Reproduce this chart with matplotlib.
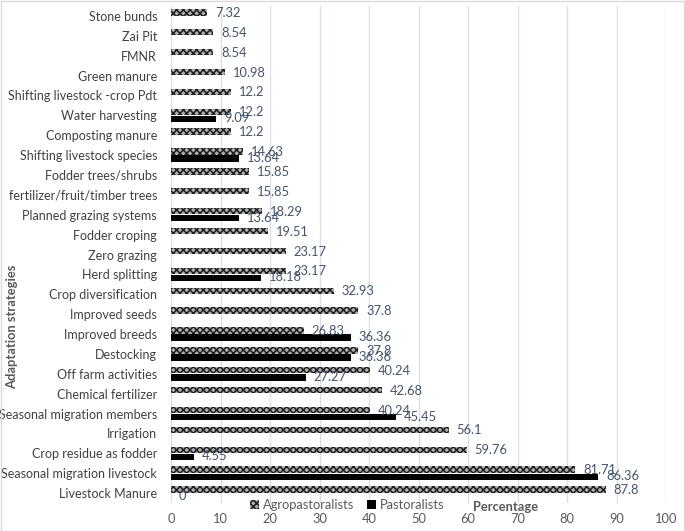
import matplotlib
matplotlib.use("Agg")
import matplotlib.pyplot as plt
import numpy as np
from matplotlib.patches import Patch, Rectangle

plt.rcParams['font.family'] = ['Lato', 'DejaVu Sans']
plt.rcParams['hatch.linewidth'] = 1.1

categories = ["Livestock Manure", "Seasonal migration livestock", "Crop residue as fodder",
              "Irrigation", "Seasonal migration members", "Chemical fertilizer",
              "Off farm activities", "Destocking", "Improved breeds", "Improved seeds",
              "Crop diversification", "Herd splitting", "Zero grazing", "Fodder croping",
              "Planned grazing systems", "fertilizer/fruit/timber trees", "Fodder trees/shrubs",
              "Shifting livestock species", "Composting manure", "Water harvesting",
              "Shifting livestock -crop Pdt", "Green manure", "FMNR", "Zai Pit", "Stone bunds"]
agro = [87.8, 81.71, 59.76, 56.1, 40.24, 42.68, 40.24, 37.8, 26.83, 37.8, 32.93, 23.17,
        23.17, 19.51, 18.29, 15.85, 15.85, 14.63, 12.2, 12.2, 12.2, 10.98, 8.54, 8.54, 7.32]
past = [0, 86.36, 4.55, None, 45.45, None, 27.27, 36.36, 36.36, None, None, 18.18,
        None, None, 13.64, None, None, 13.64, None, 9.09, None, None, None, None, None]
xticks = [0, 10, 20, 30, 40, 50, 60, 70, 80, 90, 100]

W, H = 685, 531
fig = plt.figure(figsize=(W/100, H/100), dpi=100)
ax = fig.add_axes([171/W, (H-503)/H, (666-171)/W, (503-6)/H])

y = np.arange(len(categories))
bh = 0.32
off = 0.18
lab_col = '#44546A'
txt_col = '#404040'
fs = 9.3
hatch_face = '#b0b0b0'
hatch_edge = '#1e1e1e'

ax.barh(y + off, agro, height=bh, color=hatch_face, edgecolor=hatch_edge, hatch='xxxxx',
        linewidth=0, label='Agropastoralists', zorder=3)
pmask = [v is not None for v in past]
ax.barh(y[pmask] - off, [v for v in past if v is not None], height=bh, color='black',
        linewidth=0, label='Pastoralists', zorder=3)

for yi, v in zip(y, agro):
    ax.text(v + 1.6, yi + off - 0.03, f"{v:g}", va='center', ha='left', fontsize=fs, color=lab_col, zorder=4)
for yi, v in zip(y, past):
    if v is not None:
        ax.text(v + 1.6, yi - off + 0.03, f"{v:g}", va='center', ha='left', fontsize=fs, color=lab_col, zorder=4)

ax.set_xlim(0, 100)
ax.set_ylim(-0.5, len(categories) - 0.5)
ax.set_yticks(y)
ax.set_yticklabels(categories, fontsize=9, color=txt_col)
ax.set_xticks(xticks)
ax.set_xticklabels([str(t) for t in xticks], fontsize=fs, color='#595959')
ax.tick_params(axis='y', length=0, pad=10)
ax.tick_params(axis='x', length=0, pad=7)
for s in ax.spines.values():
    s.set_visible(False)
ax.grid(axis='x', color='#D9DDE8', linewidth=0.9, zorder=0)
ax.set_axisbelow(True)

leg = fig.legend(handles=[Patch(facecolor=hatch_face, edgecolor=hatch_edge, hatch='xxxxx', linewidth=0, label='Agropastoralists'),
                          Patch(facecolor='black', label='Pastoralists')],
                 loc='center', bbox_to_anchor=(347/W, 1-505/H), ncol=2, frameon=False,
                 fontsize=fs, handlelength=0.7, handleheight=0.7, handletextpad=0.3,
                 columnspacing=1.0, labelcolor='#595959')

fig.text(506/W, 1-507/H, "Percentage", ha='center', va='center', fontsize=fs, fontweight='bold', color='#595959')
fig.text(12/W, 1-327/H, "Adaptation strategies", ha='center', va='center', rotation=90,
         fontsize=fs, fontweight='bold', color='#595959')

fig.patches.append(Rectangle((0.5/W, 0.5/H), (W-1.5)/W, (H-1.5)/H, transform=fig.transFigure,
                             fill=False, edgecolor='#D9D9D9', linewidth=1))

fig.savefig("out.png", dpi=100)
